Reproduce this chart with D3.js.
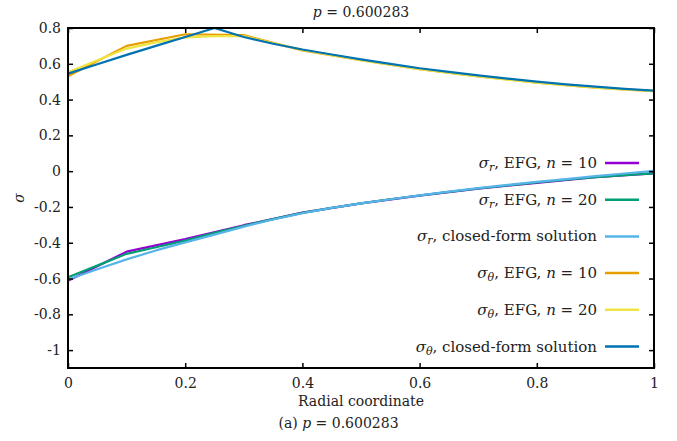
<!DOCTYPE html>
<html>
<head>
<meta charset="utf-8">
<script src="https://cdn.jsdelivr.net/npm/d3@7"></script>
<style>
  body { margin: 0; background: #fff; }
  text { font-family: "DejaVu Serif", serif; fill: #222; }
</style>
</head>
<body>
<svg id="graph"></svg>
<script>
// Node positions
const x10 = [ 0, 0.1, 0.2, 0.3, 0.4, 0.5, 0.6, 0.7, 0.8, 0.9, 1.0 ];
const x20 = [ 0, 0.05, 0.1, 0.15, 0.2, 0.25, 0.3, 0.35, 0.4, 0.45, 0.5,
              0.55, 0.6, 0.65, 0.7, 0.75, 0.8, 0.85, 0.9, 0.95, 1.0 ];

// sigma_r
const sigmaR10 = [ -0.612, -0.45, -0.38, -0.302, -0.232, -0.18, -0.137, -0.098, -0.065, -0.034, -0.012 ];
const sigmaR20 = [ -0.593, -0.528, -0.462, -0.425, -0.388, -0.345, -0.305, -0.268, -0.233, -0.205, -0.18,
                   -0.157, -0.136, -0.116, -0.097, -0.08, -0.063, -0.048, -0.033, -0.022, -0.012 ];
const sigmaRExact = [ -0.605, -0.548, -0.493, -0.443, -0.398, -0.355, -0.31, -0.27, -0.235, -0.205, -0.18,
                      -0.157, -0.135, -0.114, -0.095, -0.077, -0.06, -0.044, -0.028, -0.013, 0.002 ];

// sigma_theta
const sigmaT10 = [ 0.53, 0.70, 0.765, 0.76, 0.675, 0.62, 0.57, 0.53, 0.495, 0.467, 0.447 ];
const sigmaT20 = [ 0.552, 0.62, 0.685, 0.72, 0.748, 0.755, 0.755, 0.715, 0.678, 0.648, 0.62,
                   0.595, 0.57, 0.55, 0.53, 0.512, 0.495, 0.48, 0.467, 0.456, 0.447 ];
const sigmaTExact = [ 0.545, 0.597, 0.65, 0.70, 0.75, 0.80, 0.75, 0.712, 0.68, 0.652, 0.625,
                      0.60, 0.575, 0.555, 0.535, 0.517, 0.50, 0.485, 0.472, 0.46, 0.45 ];

const xTicks = [ 0, 0.2, 0.4, 0.6, 0.8, 1 ];
const yTicks = [ 0.8, 0.6, 0.4, 0.2, 0, -0.2, -0.4, -0.6, -0.8, -1 ];

const series = [
    { sym: "r", label: ", EFG, ", n: "10", xs: x10, ys: sigmaR10, color: "#9400d3" },
    { sym: "r", label: ", EFG, ", n: "20", xs: x20, ys: sigmaR20, color: "#009e73" },
    { sym: "r", label: ", closed-form solution", n: null, xs: x20, ys: sigmaRExact, color: "#56b4e9" },
    { sym: "θ", label: ", EFG, ", n: "10", xs: x10, ys: sigmaT10, color: "#e69f00" },
    { sym: "θ", label: ", EFG, ", n: "20", xs: x20, ys: sigmaT20, color: "#f0e442" },
    { sym: "θ", label: ", closed-form solution", n: null, xs: x20, ys: sigmaTExact, color: "#0072b2" }
];

var svgWidth = 677,
    svgHeight = 441,
    margin = { top: 28, right: 23, bottom: 73, left: 68 },
    width = svgWidth - margin.left - margin.right,
    height = svgHeight - margin.top - margin.bottom,
    tickLen = 5,
    fontSize = 14,
    serif = "'DejaVu Serif', serif";

const svg = d3.select( "svg#graph" )
    .attr( "width", svgWidth )
    .attr( "height", svgHeight );

const x = d3.scaleLinear().domain( [ 0, 1 ] ).range( [ 0, width ] );
const y = d3.scaleLinear().domain( [ -1.1, 0.8 ] ).range( [ height, 0 ] );

const g = svg.append( "g" )
    .attr( "transform", "translate(" + [ margin.left, margin.top ] + ")" );

// curves
const line = d3.line()
    .x( function ( d ) { return x( d[ 0 ] ); } )
    .y( function ( d ) { return y( d[ 1 ] ); } );

g.append( "g" ).selectAll( "path" )
    .data( series )
    .enter()
    .append( "path" )
    .attr( "fill", "none" )
    .attr( "stroke", function ( d ) { return d.color; } )
    .attr( "stroke-width", 2.2 )
    .attr( "stroke-linejoin", "round" )
    .attr( "d", function ( d ) { return line( d.xs.map( function ( v, i ) { return [ v, d.ys[ i ] ]; } ) ); } );

// axes, ticks pointing inward, mirrored
function fmt( d ) { return d === 0 ? "0" : String( d ); }

g.append( "g" )
    .attr( "transform", "translate(0," + height + ")" )
    .call( d3.axisBottom( x ).tickValues( xTicks ).tickSize( -tickLen ).tickPadding( 10 ).tickFormat( fmt ) );
g.append( "g" )
    .call( d3.axisTop( x ).tickValues( xTicks ).tickSize( -tickLen ).tickFormat( "" ) );
g.append( "g" )
    .call( d3.axisLeft( y ).tickValues( yTicks ).tickSize( -tickLen ).tickPadding( 7 ).tickFormat( fmt ) );
g.append( "g" )
    .attr( "transform", "translate(" + width + ",0)" )
    .call( d3.axisRight( y ).tickValues( yTicks ).tickSize( -tickLen ).tickFormat( "" ) );

g.selectAll( ".domain" ).remove();
g.selectAll( ".tick line" ).attr( "stroke", "#000" ).attr( "stroke-width", 1.5 );
g.selectAll( ".tick text" )
    .style( "font-family", serif )
    .style( "font-size", fontSize + "px" )
    .attr( "fill", "#222" );

g.append( "rect" )
    .attr( "width", width )
    .attr( "height", height )
    .attr( "fill", "none" )
    .attr( "stroke", "#000" )
    .attr( "stroke-width", 2 );

// legend
const legendRight = 597 - margin.left,
    legendTop = 163 - margin.top,
    legendStep = 36.7;

const legend = g.append( "g" ).selectAll( ".legend" )
    .data( series )
    .enter()
    .append( "g" )
    .attr( "transform", function ( d, i ) { return "translate(" + [ legendRight, legendTop + i * legendStep ] + ")"; } );

legend.append( "line" )
    .attr( "x1", 8 ).attr( "x2", 42 )
    .attr( "stroke", function ( d ) { return d.color; } )
    .attr( "stroke-width", 2.5 );

const lt = legend.append( "text" )
    .attr( "text-anchor", "end" )
    .attr( "y", 5 )
    .style( "font-size", "15px" );
lt.append( "tspan" ).style( "font-style", "italic" ).text( "σ" );
lt.append( "tspan" ).style( "font-style", "italic" ).style( "font-size", "11px" ).attr( "dy", 3 )
    .text( function ( d ) { return d.sym; } );
lt.append( "tspan" ).attr( "dy", -3 ).text( function ( d ) { return d.label; } );
lt.filter( function ( d ) { return d.n; } ).append( "tspan" ).style( "font-style", "italic" ).text( "n" );
lt.filter( function ( d ) { return d.n; } ).append( "tspan" ).text( function ( d ) { return " = " + d.n; } );

// titles
const title = svg.append( "text" )
    .attr( "x", margin.left + width / 2 ).attr( "y", 17 )
    .attr( "text-anchor", "middle" )
    .style( "font-size", fontSize + "px" );
title.append( "tspan" ).style( "font-style", "italic" ).text( "p" );
title.append( "tspan" ).text( " = 0.600283" );

svg.append( "text" )
    .attr( "x", margin.left + width / 2 ).attr( "y", 406 )
    .attr( "text-anchor", "middle" )
    .style( "font-size", fontSize + "px" )
    .text( "Radial coordinate" );

svg.append( "text" )
    .attr( "transform", "translate(" + [ 24, 198 ] + ") rotate(-90)" )
    .attr( "text-anchor", "middle" )
    .style( "font-size", fontSize + "px" )
    .style( "font-style", "italic" )
    .text( "σ" );

const caption = svg.append( "text" )
    .attr( "x", svgWidth / 2 ).attr( "y", 428 )
    .attr( "text-anchor", "middle" )
    .style( "font-size", fontSize + "px" );
caption.append( "tspan" ).text( "(a) " );
caption.append( "tspan" ).style( "font-style", "italic" ).text( "p" );
caption.append( "tspan" ).text( " = 0.600283" );
</script>
</body>
</html>
